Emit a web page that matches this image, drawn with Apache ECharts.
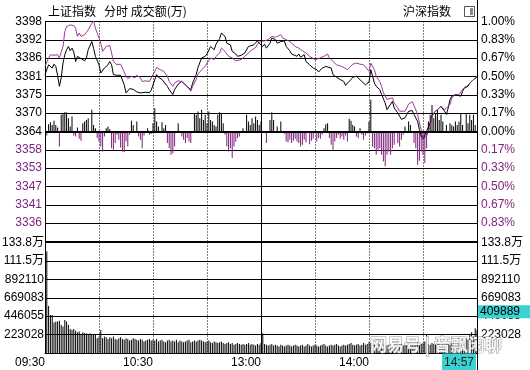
<!DOCTYPE html>
<html>
<head>
<meta charset="utf-8">
<script src="https://cdn.jsdelivr.net/npm/echarts@6/dist/echarts.min.js"></script>
<style>html,body{margin:0;padding:0;background:#fff}#c{width:530px;height:370px}</style>
</head>
<body>
<div id="c"></div>
<script>
// ---------------- data ----------------
const PREV_CLOSE = 3364.4;
const PRICE_LABELS = ['', '3336', '3341', '3347', '3353', '3358', '3364', '3370', '3375', '3381', '3386', '3392', '3398'];
const PCT_LABELS = ['', '0.83%', '0.67%', '0.50%', '0.33%', '0.17%', '0.00%', '0.17%', '0.33%', '0.50%', '0.67%', '0.83%', '1.00%'];
const VOL_MAX = 133.8165; // 万
const VOL_LABELS = ['', '223028', '446055', '669083', '892110', '111.5万', '133.8万'];
const TIME_TICKS = [0, 60, 120, 180];
const TIME_LABELS = ['09:30', '10:30', '13:00', '14:00'];
const LAST_TIME = '14:57';
const LAST_VOL = 409889;

// 上证指数 (minute index, price)
const SH_POINTS = [[0,3381.8],[2,3384.8],[3,3385.3],[4,3383.8],[5,3385.0],[6,3384.3],[7,3381.5],[8,3378.2],[9,3380.8],[10,3385.3],
[11,3387.9],[12,3389.4],[13,3390.4],[14,3389.1],[15,3389.9],[16,3388.7],[17,3385.8],[18,3387.4],[20,3386.7],[21,3387.1],
[22,3386.0],[23,3386.9],[24,3389.4],[26,3391.9],[27,3389.8],[28,3387.4],[30,3384.8],[31,3382.3],[32,3382.8],[33,3383.8],
[35,3384.8],[36,3385.8],[37,3384.8],[38,3381.8],[40,3381.6],[42,3381.6],[44,3378.7],[45,3376.2],[46,3376.7],[47,3377.5],
[48,3376.9],[49,3377.3],[51,3376.5],[52,3377.1],[53,3376.2],[54,3375.7],[56,3376.4],[58,3376.3],[59,3377.0],[61,3380.3],
[62,3381.8],[63,3381.0],[65,3380.3],[66,3379.7],[68,3378.2],[69,3377.2],[71,3375.7],[72,3377.2],[74,3378.9],[76,3379.7],
[77,3379.2],[79,3378.2],[81,3377.2],[82,3379.2],[84,3381.8],[85,3384.0],[87,3386.9],[89,3387.4],[90,3388.1],[92,3390.4],
[94,3389.4],[95,3391.1],[97,3392.8],[98,3394.5],[100,3393.5],[101,3391.4],[103,3390.9],[104,3388.9],[106,3388.1],[107,3387.4],
[109,3387.7],[111,3388.4],[113,3390.4],[114,3390.4],[116,3390.9],[118,3392.1],[119,3391.4],[121,3390.4],[122,3391.1],[123,3389.9],
[125,3391.4],[126,3393.0],[128,3392.5],[129,3391.4],[131,3391.9],[133,3392.1],[134,3390.4],[136,3389.1],[137,3388.1],[138,3388.4],
[140,3387.4],[141,3388.1],[142,3387.1],[144,3387.9],[145,3385.8],[147,3384.8],[148,3385.0],[149,3383.8],[151,3383.3],[152,3382.6],
[154,3383.8],[155,3384.0],[156,3384.3],[157,3384.8],[159,3383.8],[160,3381.8],[162,3381.0],[164,3380.3],[166,3379.7],[167,3378.5],
[168,3379.2],[170,3380.3],[171,3381.0],[173,3381.3],[174,3380.8],[176,3379.7],[178,3378.7],[179,3379.2],[180,3379.5],[181,3383.3],
[183,3379.2],[184,3378.2],[186,3377.2],[187,3375.7],[189,3373.1],[190,3371.1],[191,3371.6],[193,3373.6],[194,3371.6],[196,3370.1],
[197,3369.1],[198,3368.1],[200,3368.6],[201,3369.6],[202,3370.6],[204,3370.8],[205,3369.6],[207,3367.5],[208,3365.0],[209,3363.0],
[210,3362.0],[211,3362.5],[212,3364.5],[214,3367.0],[215,3369.1],[216,3370.1],[218,3371.1],[219,3370.6],[220,3372.1],[222,3370.6],
[223,3369.6],[224,3371.6],[225,3374.2],[226,3375.2],[228,3375.7],[229,3376.2],[231,3375.2],[232,3376.7],[233,3377.7],[235,3378.2],
[236,3379.2],[238,3380.3],[239,3380.8],[240,3381.0]];

// 沪深指数 (minute index, value on the same scale)
const EQ_POINTS = [[0,3384.3],[2,3386.9],[3,3387.9],[5,3387.7],[7,3387.9],[8,3386.9],[9,3387.4],[10,3390.4],[11,3395.0],[12,3396.5],
[14,3397.0],[16,3396.8],[17,3396.0],[18,3393.5],[19,3394.5],[20,3393.5],[22,3394.0],[23,3394.5],[24,3395.5],[26,3397.5],
[27,3398.2],[28,3396.0],[30,3393.0],[31,3391.4],[32,3388.9],[34,3390.4],[35,3390.9],[36,3390.7],[37,3388.4],[38,3385.8],
[40,3384.8],[42,3385.0],[43,3383.8],[45,3381.3],[46,3380.6],[47,3381.0],[48,3381.3],[50,3380.8],[51,3381.6],[53,3380.8],
[54,3379.7],[56,3379.9],[58,3379.7],[59,3380.3],[61,3382.8],[62,3384.0],[64,3383.3],[66,3382.8],[68,3381.3],[69,3379.7],
[71,3378.2],[72,3379.2],[74,3379.9],[76,3379.7],[78,3378.7],[80,3377.5],[81,3376.7],[82,3378.2],[84,3380.3],[85,3382.0],
[87,3383.3],[89,3384.3],[90,3385.3],[92,3386.9],[94,3386.4],[95,3387.4],[97,3388.4],[98,3389.9],[100,3388.9],[102,3387.4],
[104,3386.9],[106,3386.0],[107,3385.8],[109,3386.4],[111,3387.4],[113,3388.4],[115,3389.4],[117,3390.1],[118,3391.1],[120,3392.1],
[121,3391.9],[122,3392.1],[124,3392.5],[126,3393.5],[128,3393.2],[129,3393.5],[131,3394.0],[132,3393.0],[134,3392.5],[136,3391.9],
[137,3391.4],[139,3390.4],[141,3389.9],[143,3389.1],[145,3388.4],[147,3387.4],[148,3386.9],[150,3386.4],[152,3386.7],[153,3386.9],
[155,3387.4],[157,3388.1],[158,3386.9],[160,3385.8],[162,3384.8],[165,3384.3],[166,3384.0],[168,3383.3],[169,3383.8],[171,3385.0],
[173,3385.3],[175,3385.0],[177,3384.8],[178,3384.6],[180,3382.8],[181,3385.3],[183,3383.3],[184,3381.3],[186,3379.7],[187,3378.2],
[188,3376.2],[190,3374.2],[191,3373.6],[193,3374.7],[194,3373.1],[196,3371.6],[197,3370.6],[198,3370.1],[200,3370.6],[201,3371.6],
[202,3372.8],[204,3373.5],[205,3372.4],[207,3369.6],[208,3367.0],[209,3365.0],[210,3362.0],[211,3361.5],[212,3363.0],[214,3366.0],
[215,3368.6],[216,3370.1],[218,3371.1],[219,3371.1],[220,3372.1],[222,3371.1],[223,3370.6],[225,3372.6],[226,3374.7],[228,3375.7],
[229,3376.2],[230,3375.7],[232,3377.2],[233,3377.9],[235,3378.5],[236,3378.7],[237,3379.7],[239,3380.8],[240,3381.3]];

// lead bars around the zero line (minute index, value)
const LEAD_POINTS = [[1,-2.2],[2,4.0],[3,5.1],[4,3.6],[5,5.8],[6,3.6],[7,2.2],[8,-8.2],[9,9.1],[10,10.0],
[11,10.5],[12,10.5],[13,7.2],[14,2.7],[15,8.2],[16,-2.2],[17,-2.7],[18,2.2],[19,-4.0],[20,-5.1],
[21,4.5],[22,5.4],[23,6.3],[24,7.2],[26,11.8],[27,3.6],[28,1.8],[29,-3.6],[30,-5.4],[31,-8.2],
[32,-10.9],[33,-2.7],[34,1.8],[35,2.7],[36,1.4],[37,-9.1],[38,-10.0],[39,-6.3],[40,-1.8],[41,-4.5],
[42,-8.7],[43,-10.9],[44,-11.2],[45,-5.4],[46,-8.2],[47,-1.8],[48,5.8],[49,3.6],[51,5.4],[52,-2.7],
[53,-4.5],[54,-9.1],[55,-2.2],[57,1.8],[58,-1.8],[59,-1.4],[60,4.5],[61,12.7],[62,5.4],[63,2.7],
[65,5.1],[66,1.8],[67,3.6],[68,-6.3],[69,-9.1],[70,-12.7],[71,-11.8],[72,-8.2],[74,4.5],[76,-2.7],
[77,-4.5],[78,-6.3],[79,-3.6],[80,-5.4],[81,-6.3],[83,10.0],[84,9.1],[85,10.9],[86,7.2],[87,11.8],
[88,6.3],[89,9.1],[90,4.5],[91,10.9],[92,6.3],[93,5.4],[94,3.6],[95,2.7],[96,9.1],[97,10.5],
[98,10.0],[99,4.5],[100,-1.8],[101,-8.2],[102,-10.9],[103,-9.1],[104,-14.5],[105,-8.2],[106,-5.4],[107,-3.6],
[108,-2.7],[110,1.8],[112,9.1],[113,5.4],[114,3.6],[115,7.2],[116,4.5],[117,8.2],[118,6.3],[119,3.6],
[120,5.4],[123,-6.3],[125,6.3],[126,10.5],[127,6.3],[129,2.7],[131,5.4],[133,-1.4],[134,-5.4],[135,-5.8],
[136,-4.5],[137,-6.3],[138,-5.1],[139,-4.0],[140,-5.4],[141,-6.3],[142,-8.2],[143,-7.2],[144,-4.5],[145,-5.8],
[147,-6.9],[148,-5.1],[149,-4.0],[151,-5.4],[152,-3.6],[153,-4.0],[154,-1.8],[155,1.8],[156,4.0],[157,4.5],
[158,-3.6],[159,-7.2],[160,-10.0],[161,-5.4],[162,-3.6],[163,-1.8],[164,-4.0],[165,-2.7],[166,-4.5],[167,-2.2],
[168,-5.4],[169,7.0],[170,5.8],[171,3.6],[172,2.7],[173,-2.7],[174,-3.6],[175,1.8],[176,-1.8],[177,-4.5],
[178,-2.2],[179,-0.9],[180,5.4],[181,17.2],[182,-8.2],[183,-9.1],[184,-12.7],[185,-10.0],[186,-9.1],[187,-12.7],
[188,-16.3],[189,-19.0],[190,-12.7],[191,-10.9],[192,-12.7],[193,-9.1],[194,-7.2],[196,-6.3],[197,-8.2],[198,-4.5],
[199,-1.8],[200,2.7],[202,5.4],[203,3.6],[205,-6.3],[206,-9.1],[207,-18.1],[208,-16.0],[209,-10.9],[210,-12.7],
[211,-17.2],[212,-9.1],[213,5.4],[214,9.1],[215,14.5],[216,7.2],[217,10.0],[218,11.8],[219,6.3],[220,9.1],
[221,5.4],[223,3.6],[224,-0.9],[225,4.5],[226,3.6],[227,2.7],[228,5.4],[229,3.6],[230,5.4],[231,10.0],
[232,3.6],[234,10.0],[235,4.5],[236,9.1],[237,6.3],[238,9.1],[239,3.6]];

// 成交额 per minute (万), minutes 1..240
const VOL = [123,57,46,46,37,38,38,39,34,32,
40,38,34,29,28,29,27,25,26,23,
25,24,24,23,24,23,23,22,18,20,
28,18,20,19,17,19,18,20,17,16,
18,19,17,16,18,17,15,16,18,17,
16,15,17,16,14,15,16,17,15,16,
15,17,14,15,16,14,13,15,16,14,
15,14,16,13,15,14,13,14,15,16,
13,14,15,14,15,16,15,14,13,14,
15,13,12,14,13,12,13,14,12,11,
12,13,11,12,10,11,12,11,10,11,
10,11,12,10,11,10,9,11,10,12,
24,11,10,9,10,11,9,10,9,8,
10,9,8,9,10,9,8,9,10,9,
8,9,10,8,9,11,9,8,9,10,
9,8,9,10,11,9,8,9,10,9,
10,11,9,8,9,10,9,10,11,12,
10,9,10,11,9,10,12,10,11,13,
12,11,10,12,11,10,9,11,10,9,
10,11,9,10,12,9,10,11,9,10,
11,12,10,11,9,10,13,12,11,12,
14,23,11,10,12,11,10,12,11,10,
11,10,12,11,10,12,13,11,12,14,
13,15,12,18,16,22,25,20,30,28];

// ---------------- chart ----------------
const FONT = "'Liberation Sans', 'Noto Sans CJK SC', sans-serif";
const CJK = "'Noto Sans CJK SC', sans-serif";
const BLACK = '#000000';
const PURPLE_LINE = '#9a3c9a';
const PURPLE = '#7e1f7e';
const CYAN = '#3ad2d2';

const priceMin = PREV_CLOSE * 0.99;
const priceMax = PREV_CLOSE * 1.01;
const priceStep = PREV_CLOSE * 0.01 / 6;
const volStep = VOL_MAX / 6;
const pIdx = v => Math.round((Number(v) - priceMin) / priceStep);
const vIdx = v => Math.round(Number(v) / volStep);

const xSplit = {show: true, showMinLine: false, showMaxLine: false, lineStyle: {color: BLACK, width: 1, type: [1, 2]}};
const ySplit = {show: true, lineStyle: {color: BLACK, width: 1, type: 'solid'}};
const axLine = {show: true, lineStyle: {color: BLACK, width: 1}};
const lbl = {fontSize: 12, fontFamily: FONT};

const option = {
  animation: false,
  backgroundColor: '#ffffff',
  textStyle: {fontFamily: FONT},
  grid: [
    {left: 45, width: 432, top: 21.5, height: 220, containLabel: false, outerBoundsMode: 'none'},
    {left: 45, width: 432, top: 242.5, height: 110.5, containLabel: false, outerBoundsMode: 'none'}
  ],
  xAxis: [
    {type: 'value', gridIndex: 0, min: 0, max: 240, interval: 30,
     axisLine: {show: false}, axisTick: {show: false}, axisLabel: {show: false}, splitLine: xSplit},
    {type: 'value', gridIndex: 1, min: 0, max: 240, interval: 30,
     axisLine: axLine, axisTick: {show: false}, splitLine: xSplit,
     axisLabel: Object.assign({show: true, margin: 4, align: 'right', color: BLACK,
       formatter: v => { const k = TIME_TICKS.indexOf(Number(v)); return k >= 0 ? TIME_LABELS[k] : ''; }}, lbl)}
  ],
  yAxis: [
    {type: 'value', gridIndex: 0, position: 'left', min: priceMin, max: priceMax, interval: priceStep,
     axisLine: axLine, axisTick: {show: false}, splitLine: ySplit,
     axisLabel: Object.assign({margin: 3, formatter: v => PRICE_LABELS[pIdx(v)] || '',
       color: v => (pIdx(v) < 6 ? PURPLE : BLACK)}, lbl)},
    {type: 'value', gridIndex: 0, position: 'right', min: priceMin, max: priceMax, interval: priceStep,
     axisLine: axLine, axisTick: {show: false}, splitLine: {show: false},
     axisLabel: Object.assign({margin: 4, formatter: v => PCT_LABELS[pIdx(v)] || '',
       color: v => (pIdx(v) < 6 ? PURPLE : BLACK)}, lbl)},
    {type: 'value', gridIndex: 0, min: -60, max: 60, show: false},
    {type: 'value', gridIndex: 1, position: 'left', min: 0, max: VOL_MAX, interval: volStep,
     axisLine: axLine, axisTick: {show: false}, splitLine: ySplit,
     axisLabel: Object.assign({margin: 1, color: BLACK, formatter: v => VOL_LABELS[vIdx(v)] || ''}, lbl)},
    {type: 'value', gridIndex: 1, position: 'right', min: 0, max: VOL_MAX, interval: volStep,
     axisLine: axLine, axisTick: {show: false}, splitLine: {show: false},
     axisLabel: Object.assign({margin: 4, color: BLACK, formatter: v => VOL_LABELS[vIdx(v)] || ''}, lbl)}
  ],
  series: [
    {type: 'bar', name: 'lead', xAxisIndex: 0, yAxisIndex: 2, barWidth: 1, silent: true,
     data: LEAD_POINTS,
     itemStyle: {color: p => (p.value[1] >= 0 ? BLACK : PURPLE)}},
    {type: 'line', name: '上证指数', xAxisIndex: 0, yAxisIndex: 0, data: SH_POINTS,
     showSymbol: false, symbol: 'none', silent: true,
     lineStyle: {color: BLACK, width: 1}, itemStyle: {color: BLACK},
     markLine: {symbol: 'none', silent: true, label: {show: false}, animation: false,
       data: [{yAxis: PREV_CLOSE, lineStyle: {color: BLACK, width: 2, type: 'solid'}},
              {xAxis: 120, lineStyle: {color: BLACK, width: 1, type: 'solid'}}]}},
    {type: 'line', name: '沪深指数', xAxisIndex: 0, yAxisIndex: 0, data: EQ_POINTS,
     showSymbol: false, symbol: 'none', silent: true,
     lineStyle: {color: PURPLE_LINE, width: 1}, itemStyle: {color: PURPLE_LINE}},
    {type: 'bar', name: '成交额', xAxisIndex: 1, yAxisIndex: 3, barWidth: 1, silent: true,
     data: VOL.map((v, k) => [k + 1, v]), itemStyle: {color: BLACK},
     markLine: {symbol: 'none', silent: true, label: {show: false}, animation: false,
       data: [{yAxis: VOL_MAX, lineStyle: {color: BLACK, width: 3, type: 'solid'}},
              {xAxis: 120, lineStyle: {color: BLACK, width: 1, type: 'solid'}}]}}
  ]
};

const chart = echarts.init(document.getElementById('c'), null, {renderer: 'canvas', width: 530, height: 370});
chart.setOption(option);

const pLast = chart.convertToPixel({gridIndex: 1}, [240, LAST_VOL / 10000]);
const txt = (t, x, y, extra) => ({type: 'text', x: x, y: y, z: 100,
  style: Object.assign({text: t, fill: BLACK, font: '12px ' + CJK, verticalAlign: 'middle', align: 'left'}, extra || {})});

chart.setOption({graphic: [
  txt('上证指数', 48, 11),
  txt('分时 成交额(万)', 104, 11),
  txt('沪深指数', 403, 11),
  {type: 'rect', z: 100, shape: {x: 464.5, y: 6.5, width: 10, height: 10}, style: {fill: '#fff', stroke: '#555', lineWidth: 1}},
  {type: 'rect', z: 100, shape: {x: 470, y: 8, width: 3, height: 7}, style: {fill: '#888'}},
  {type: 'line', z: 100, shape: {x1: 477.5, y1: 0, x2: 477.5, y2: 370}, style: {stroke: BLACK, lineWidth: 1}},
  {type: 'text', x: 370, y: 345, z: 90,
   style: {text: '网易号 | 音飘闲聊', font: 'bold 17px ' + CJK, fill: '#ffffff', stroke: '#8a8a8a', lineWidth: 1, verticalAlign: 'middle', opacity: 0.9}},
  {type: 'text', x: 478, y: pLast[1] - 1, z: 110,
   style: {text: String(LAST_VOL), font: '12px ' + FONT, fill: BLACK, align: 'left', verticalAlign: 'bottom',
           backgroundColor: CYAN, padding: [1, 11, 0, 2]}},
  {type: 'text', x: pLast[0] - 1, y: 353.5, z: 110,
   style: {text: LAST_TIME, font: '12px ' + FONT, fill: '#222', align: 'right', verticalAlign: 'top',
           backgroundColor: CYAN, padding: [3, 2, 4, 2]}}
]});
</script>
</body>
</html>
